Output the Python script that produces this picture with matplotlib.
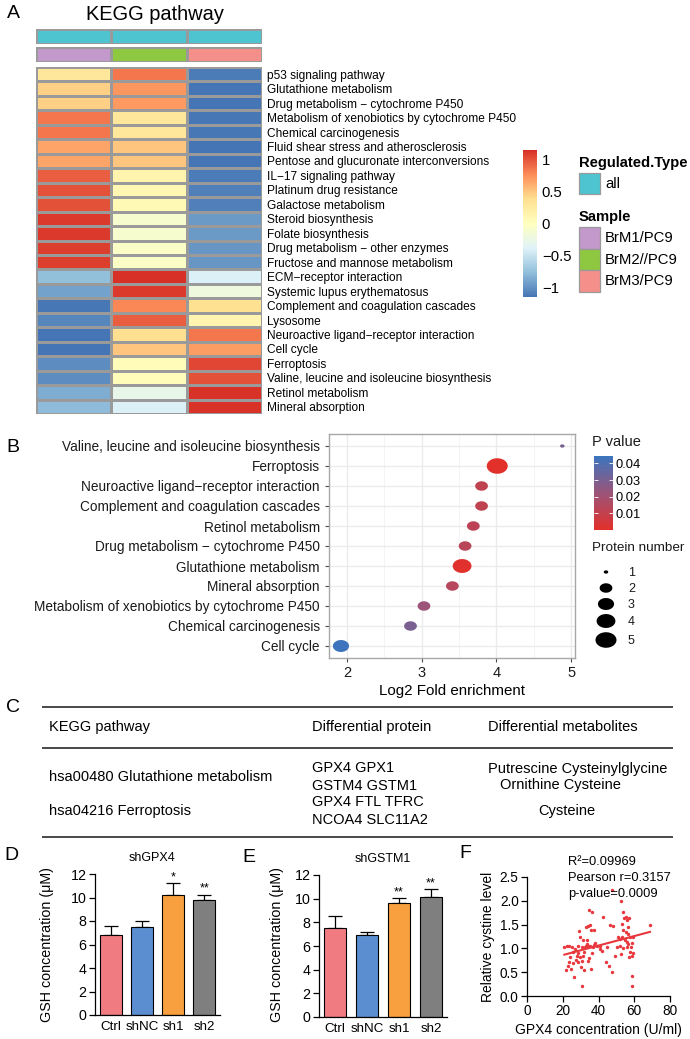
import matplotlib

matplotlib.use("Agg")
import matplotlib.pyplot as plt
import numpy as np
from matplotlib.colors import LinearSegmentedColormap, ListedColormap, Normalize
from matplotlib.patches import Rectangle
from matplotlib.path import Path

plt.rcParams["font.family"] = ["Liberation Sans", "DejaVu Sans"]

W, H = 690, 1039

# ---- panel A: KEGG heatmap (row z-scores) ----
heat_pathways = [
    "p53 signaling pathway",
    "Glutathione metabolism",
    "Drug metabolism \u2212 cytochrome P450",
    "Metabolism of xenobiotics by cytochrome P450",
    "Chemical carcinogenesis",
    "Fluid shear stress and atherosclerosis",
    "Pentose and glucuronate interconversions",
    "IL\u221217 signaling pathway",
    "Platinum drug resistance",
    "Galactose metabolism",
    "Steroid biosynthesis",
    "Folate biosynthesis",
    "Drug metabolism \u2212 other enzymes",
    "Fructose and mannose metabolism",
    "ECM\u2212receptor interaction",
    "Systemic lupus erythematosus",
    "Complement and coagulation cascades",
    "Lysosome",
    "Neuroactive ligand\u2212receptor interaction",
    "Cell cycle",
    "Ferroptosis",
    "Valine, leucine and isoleucine biosynthesis",
    "Retinol metabolism",
    "Mineral absorption",
]
samples = ["BrM1/PC9", "BrM2//PC9", "BrM3/PC9"]
brm1_z = [0.30, 0.45, 0.45, 0.85, 0.85, 0.65, 0.65, 0.95, 1.00, 1.00, 1.10, 1.10,
          1.07, 1.07, -0.75, -0.90, -1.13, -1.05, -1.14, -1.14, -1.02, -1.02, -0.85, -0.77]
brm2_z = [0.85, 0.72, 0.70, 0.30, 0.30, 0.50, 0.50, 0.15, 0.10, 0.08, -0.10, -0.10,
          -0.05, -0.05, 1.14, 1.10, 0.78, 0.95, 0.38, 0.50, 0.05, 0.05, -0.28, -0.40]
brm3_z = [-1.10, -1.14, -1.14, -1.13, -1.13, -1.14, -1.14, -1.10, -1.08, -1.08, -0.95, -0.95,
          -0.97, -0.97, -0.40, -0.20, 0.37, 0.12, 0.85, 0.68, 1.05, 1.00, 1.13, 1.13]

# ---- panel B: enrichment dot plot ----
b_terms = [
    "Valine, leucine and isoleucine biosynthesis",
    "Ferroptosis",
    "Neuroactive ligand\u2212receptor interaction",
    "Complement and coagulation cascades",
    "Retinol metabolism",
    "Drug metabolism \u2212 cytochrome P450",
    "Glutathione metabolism",
    "Mineral absorption",
    "Metabolism of xenobiotics by cytochrome P450",
    "Chemical carcinogenesis",
    "Cell cycle",
]
b_fold = [4.88, 4.01, 3.80, 3.80, 3.69, 3.58, 3.54, 3.41, 3.03, 2.85, 1.92]
b_count = [1, 5, 2, 2, 2, 2, 4, 2, 2, 2, 3]
b_pval = [0.030, 0.0005, 0.011, 0.011, 0.012, 0.013, 0.001, 0.014, 0.022, 0.030, 0.044]

# ---- panel C: table ----
c_header = ["KEGG pathway", "Differential protein", "Differential metabolites"]
c_pathway = ["hsa00480 Glutathione metabolism", "hsa04216 Ferroptosis"]
c_protein = [["GPX4 GPX1", "GSTM4 GSTM1"], ["GPX4 FTL TFRC", "NCOA4 SLC11A2"]]
c_metab = [["Putrescine Cysteinylglycine", "Ornithine Cysteine"], ["Cysteine"]]

# ---- panels D, E: GSH bars ----
groups = ["Ctrl", "shNC", "sh1", "sh2"]
gpx4_mean = [6.8, 7.5, 10.2, 9.75]
gpx4_err = [0.75, 0.5, 1.0, 0.5]
gpx4_sig = ["", "", "*", "**"]
gstm1_mean = [7.55, 6.9, 9.6, 10.1]
gstm1_err = [1.0, 0.3, 0.45, 0.7]
gstm1_sig = ["", "", "**", "**"]

# ---- panel F: GPX4 vs cystine ----
gpx4_conc = [20.9, 22.2, 23.7, 25.0, 21.8, 22.7, 24.6, 25.9, 26.5, 27.4, 27.8, 28.7,
             28.3, 29.6, 30.0, 30.6, 31.1, 31.9, 32.4, 33.4, 34.3, 31.5, 29.6, 29.3,
             33.0, 33.9, 35.2, 35.8, 34.8, 36.2, 37.7, 38.0, 33.4, 35.2, 36.7, 37.5,
             38.9, 36.2, 30.7, 35.6, 32.8, 34.7, 33.9, 31.7, 40.8, 41.7, 42.3, 46.4,
             48.3, 44.0, 46.0, 47.4, 49.2, 50.1, 47.4, 52.6, 53.5, 54.4, 55.2, 56.1,
             57.0, 52.9, 53.9, 55.4, 56.7, 52.9, 52.0, 54.8, 55.7, 57.6, 56.7, 58.5,
             58.0, 53.9, 52.0, 52.6, 57.6, 58.5, 57.2, 59.1, 58.5, 58.5, 68.8, 25.9,
             26.8, 28.7, 30.6, 24.1, 23.5, 55.7, 51.1, 40.8, 44.5, 56.7, 59.5]
cystine_level = [1.02, 1.04, 1.06, 1.02, 0.54, 0.64, 0.57, 0.69, 0.40, 0.76, 0.83, 0.90,
                 0.71, 0.82, 0.61, 0.74, 0.83, 0.92, 1.03, 1.10, 1.06, 1.17, 1.24, 1.37,
                 1.44, 1.47, 1.50, 1.39, 1.80, 1.77, 1.38, 1.11, 1.18, 1.06, 1.02, 1.07,
                 1.05, 0.90, 0.20, 0.57, 1.05, 0.80, 0.74, 0.54, 0.99, 0.95, 1.67, 1.50,
                 1.47, 0.71, 0.62, 0.50, 0.85, 1.03, 2.23, 1.99, 1.76, 1.64, 1.65, 1.59,
                 1.64, 1.52, 1.39, 1.34, 1.45, 1.25, 1.20, 1.17, 1.13, 1.23, 1.09, 1.11,
                 1.02, 1.00, 1.06, 0.88, 0.92, 0.85, 0.82, 0.90, 0.42, 0.20, 1.50, 0.92,
                 0.99, 1.06, 1.03, 0.82, 0.71, 1.03, 1.24, 1.06, 1.02, 1.31, 1.24]
f_stats = ["R\u00b2=0.09969", "Pearson r=0.3157", "p-value=0.0009"]

heat_cmap = LinearSegmentedColormap.from_list(
    "rdylbu7",
    ["#4575B4", "#91BFDB", "#E0F3F8", "#FFFFBF", "#FEE090", "#FC8D59", "#D73027"],
)
p_cmap = LinearSegmentedColormap.from_list("pval", ["#E3302A", "#9B5479", "#3B75BE"])
cyan = "#4DC4CF"
sample_colors = ["#C398CA", "#8EC840", "#F48F8A"]
bar_colors = ["#F07B80", "#5B8ED0", "#F8A03F", "#7F7F7F"]
cell_edge = "#9A9A9A"


def px_axes(fig, left, top, right, bottom):
    return fig.add_axes(
        [left / W, 1 - bottom / H, (right - left) / W, (bottom - top) / H]
    )


def dot_size(n):
    # ggplot-like area scale, range 1..6, mapped to marker width in points
    d = 1 + 5 * np.sqrt((np.asarray(n, float) - 1) / 4)
    width_px = 3.3 * d + 1.2
    return (width_px * 72 / 100) ** 2


t = np.linspace(0, 2 * np.pi, 64)
ellipse = Path(np.column_stack([1.35 * np.cos(t), np.sin(t)]))

fig = plt.figure(figsize=(W / 100, H / 100), dpi=100)

# overlay in pixel coordinates for letters, legends, table and free labels
ov = fig.add_axes([0, 0, 1, 1])
ov.set_xlim(0, W)
ov.set_ylim(H, 0)
ov.axis("off")
ov.set_zorder(10)

# ---------------- A ----------------
z = np.column_stack([brm1_z, brm2_z, brm3_z])
ax = px_axes(fig, 36, 67, 262, 414)
ax.pcolormesh(z, cmap=heat_cmap, vmin=-1.14, vmax=1.14, edgecolors=cell_edge, linewidth=0.9)
ax.set_xlim(0, 3)
ax.set_ylim(len(heat_pathways), 0)
ax.set_xticks([])
ax.yaxis.tick_right()
ax.set_yticks(np.arange(len(heat_pathways)) + 0.5, heat_pathways, fontsize=8.6)
ax.tick_params(axis="y", length=0, pad=3.5)
for s in ax.spines.values():
    s.set_visible(False)

ax_t = px_axes(fig, 36, 29, 262, 44)
ax_t.pcolormesh([[0, 0, 0]], cmap=ListedColormap([cyan]), vmin=0, vmax=1,
                edgecolors=cell_edge, linewidth=0.9)
ax_s = px_axes(fig, 36, 47, 262, 62)
ax_s.pcolormesh([[0, 1, 2]], cmap=ListedColormap(sample_colors), vmin=-0.5, vmax=2.5,
                edgecolors=cell_edge, linewidth=0.9)
for a in (ax_t, ax_s):
    a.set_xticks([])
    a.set_yticks([])
    for s in a.spines.values():
        s.set_visible(False)

cax = px_axes(fig, 523, 150, 537, 297)
sm = plt.cm.ScalarMappable(norm=Normalize(-1.14, 1.14), cmap=heat_cmap)
cb = fig.colorbar(sm, cax=cax, ticks=[-1, -0.5, 0, 0.5, 1])
cb.outline.set_visible(False)
cb.ax.set_yticklabels(["\u22121", "\u22120.5", "0", "0.5", "1"])
cb.ax.tick_params(length=0, labelsize=10.7, pad=3.5)

ov.text(155, 14, "KEGG pathway", fontsize=14.4, ha="center", va="center")
ov.text(579, 163, "Regulated.Type", fontsize=10.6, fontweight="bold", va="center")
ov.add_patch(Rectangle((579, 173), 21, 21, fc=cyan, ec=cell_edge, lw=0.9))
ov.text(605, 184, "all", fontsize=10.7, va="center")
ov.text(579, 217, "Sample", fontsize=10.6, fontweight="bold", va="center")
for i, (name, col) in enumerate(zip(samples, sample_colors)):
    y0 = 227 + i * 21.5
    ov.add_patch(Rectangle((579, y0), 21, 21.5, fc=col, ec=cell_edge, lw=0.9))
    ov.text(605, y0 + 11, name, fontsize=10.7, va="center")

# ---------------- B ----------------
axb = px_axes(fig, 329, 434, 575, 658)
yb = np.arange(len(b_terms))[::-1]
axb.scatter(b_fold, yb, s=dot_size(b_count), c=b_pval, cmap=p_cmap, vmin=0, vmax=0.0445,
            marker=ellipse, linewidths=0, zorder=3)
axb.set_xlim(1.76, 5.05)
axb.set_ylim(-0.6, 10.6)
axb.set_xticks([2, 3, 4, 5])
axb.set_xticks([2.5, 3.5, 4.5], minor=True)
axb.grid(which="major", color="#EBEBEB", lw=1.0)
axb.grid(which="minor", axis="x", color="#F2F2F2", lw=0.6)
axb.set_axisbelow(True)
axb.set_yticks(yb, b_terms, fontsize=9.8)
axb.tick_params(axis="both", which="major", length=3, color="#4D4D4D", labelcolor="#1A1A1A")
axb.tick_params(axis="x", labelsize=10.5, pad=3)
axb.tick_params(which="minor", length=0)
axb.set_xlabel("Log2 Fold enrichment", fontsize=10.9, labelpad=3)
for s in axb.spines.values():
    s.set_color("#A8A8A8")
    s.set_linewidth(1.0)

pcax = px_axes(fig, 594, 456, 613, 530)
sm2 = plt.cm.ScalarMappable(norm=Normalize(0, 0.0445), cmap=p_cmap)
cb2 = fig.colorbar(sm2, cax=pcax, ticks=[0.01, 0.02, 0.03, 0.04])
cb2.outline.set_visible(False)
cb2.ax.set_yticklabels(["0.01", "0.02", "0.03", "0.04"])
cb2.ax.tick_params(direction="in", color="white", length=3, width=0.6,
                   left=True, right=True, labelsize=9.3, pad=2)

ov.text(592, 442, "P value", fontsize=10.5, va="center", color="#1A1A1A")
ov.text(592, 548, "Protein number", fontsize=9.7, va="center", color="#1A1A1A")
legend_counts = [1, 2, 3, 4, 5]
legend_y = [572, 588, 604, 621, 640]
ov.scatter([606] * 5, legend_y, s=dot_size(legend_counts), c="black", marker=ellipse,
           linewidths=0)
for n, y in zip(legend_counts, legend_y):
    ov.text(628, y + 1, str(n), fontsize=9, va="center", color="#1A1A1A")

# ---------------- C ----------------
for y in (707, 748, 837):
    ov.plot([42, 673], [y, y], color="#3A3A3A", lw=1.3, solid_capstyle="butt")
for x, txt in zip([49, 312, 488], c_header):
    ov.text(x, 727, txt, fontsize=10.5, va="center")
row_y = [777, 811]
for y, path, prot, met in zip(row_y, c_pathway, c_protein, c_metab):
    ov.text(49, y, path, fontsize=10.5, va="center")
    ov.text(312, y - 8.5, prot[0], fontsize=10.5, va="center")
    ov.text(312, y + 8.5, prot[1], fontsize=10.5, va="center")
    if len(met) == 2:
        ov.text(488, y - 8.5, met[0], fontsize=10.5, va="center")
        ov.text(500, y + 8.5, met[1], fontsize=10.5, va="center")
    else:
        ov.text(567, y, met[0], fontsize=10.5, va="center", ha="center")

for letter, (x, y) in zip("ABCDEF", [(13, 14), (13, 448), (13, 707), (11, 856),
                                      (249, 857), (465, 853)]):
    ov.text(x, y, letter, fontsize=14, ha="center", va="center")


# ---------------- D, E ----------------
def gsh_bars(rect, means, errs, sig, title, title_xy, label_x):
    a = px_axes(fig, *rect)
    x = np.arange(len(groups))
    a.bar(x, means, width=0.7, color=bar_colors, edgecolor="black", linewidth=0.8, zorder=2)
    a.errorbar(x, means, yerr=[np.zeros(len(errs)), errs], fmt="none", ecolor="black",
               elinewidth=0.9, capsize=5, capthick=0.9, zorder=1)
    for xi, m, e, s in zip(x, means, errs, sig):
        if s:
            a.text(xi, m + e + 0.5, s, ha="center", va="center", fontsize=9)
    a.set_xlim(-0.5, 3.5)
    a.set_ylim(0, 12)
    a.set_yticks(range(0, 13, 2))
    a.set_xticks(x, groups)
    a.tick_params(axis="y", length=4, width=0.9, labelsize=10.3, pad=2)
    a.tick_params(axis="x", length=0, labelsize=9.6, pad=4)
    for s in ("top", "right"):
        a.spines[s].set_visible(False)
    for s in ("left", "bottom"):
        a.spines[s].set_linewidth(0.9)
    ov.text(*title_xy, title, fontsize=9, ha="center", va="center")
    ov.text(label_x, 945, "GSH concentration (\u03bcM)", fontsize=10.3, rotation=90,
            ha="center", va="center")
    return a


gsh_bars((95, 874, 220, 1015), gpx4_mean, gpx4_err, gpx4_sig, "shGPX4", (152, 858), 47)
gsh_bars((319, 875, 447, 1017), gstm1_mean, gstm1_err, gstm1_sig, "shGSTM1", (383, 859), 277)

# ---------------- F ----------------
axf = px_axes(fig, 527, 877, 670, 996)
axf.set_facecolor("none")
axf.scatter(gpx4_conc, cystine_level, s=6, color="#E8383D", linewidths=0, zorder=3)
slope, intercept = np.polyfit(gpx4_conc, cystine_level, 1)
xfit = np.array([min(gpx4_conc), max(gpx4_conc)])
axf.plot(xfit, intercept + slope * xfit, color="#E8383D", lw=1.5, zorder=2)
axf.set_xlim(0, 80)
axf.set_ylim(0, 2.5)
axf.set_xticks(range(0, 81, 20))
axf.set_yticks([0, 0.5, 1.0, 1.5, 2.0, 2.5])
axf.set_yticklabels(["0.0", "0.5", "1.0", "1.5", "2.0", "2.5"])
axf.tick_params(length=4, width=0.9, labelsize=9.8, pad=2)
for s in ("top", "right"):
    axf.spines[s].set_visible(False)
for s in ("left", "bottom"):
    axf.spines[s].set_linewidth(0.9)
for i, txt in enumerate(f_stats):
    ov.text(568, 862 + 16 * i, txt, fontsize=9.3, va="center")
ov.text(488, 937, "Relative cystine level", fontsize=10, rotation=90, ha="center", va="center")
ov.text(598, 1030, "GPX4 concentration (U/ml)", fontsize=10, ha="center", va="center")

fig.savefig("out.png", dpi=100)
